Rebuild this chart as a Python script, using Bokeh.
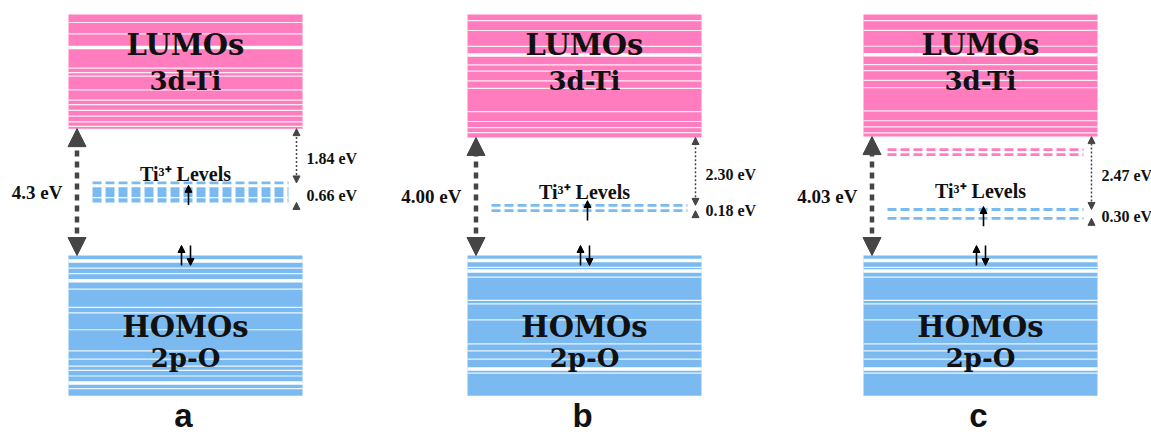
from bokeh.plotting import figure
from bokeh.models import Arrow, NormalHead, ColumnDataSource, Range1d
from bokeh.embed import file_html
from bokeh.resources import INLINE
from bokeh.core.properties import value

# ---------------- data (energies in eV, valence-band top = 0) ----------------
panel_letters = ["a", "b", "c"]
band_gap = [4.30, 4.00, 4.03]
band_gap_labels = ["4.3 eV", "4.00 eV", "4.03 eV"]
cb_to_ti = [1.84, 2.30, 2.47]
cb_to_ti_labels = ["1.84 eV", "2.30 eV", "2.47 eV"]
ti_width = [0.66, 0.18, 0.30]
ti_width_labels = ["0.66 eV", "0.18 eV", "0.30 eV"]
ti_label = "Ti³⁺ Levels"
lumo_text = ["LUMOs", "3d-Ti"]
homo_text = ["HOMOs", "2p-O"]
shallow_levels = [[], [], [3.59, 3.42]]      # pink Ti-3d levels below CB (c)
lumo_top = 8.17
homo_bottom = -4.75

# sub-level positions inside bands (fraction of band, 0 = edge facing the gap)
lumo_lines = [
    [0.02, 0.06, 0.11, 0.16, 0.21, 0.25, 0.34, 0.46, 0.49, 0.53, 0.83, 0.93],
    [0.04, 0.08, 0.13, 0.21, 0.40, 0.46, 0.54, 0.59, 0.74, 0.87, 0.95],
    [0.03, 0.08, 0.13, 0.21, 0.40, 0.46, 0.54, 0.59, 0.74, 0.87, 0.95],
]
lumo_wide = [[0.71], [0.67], [0.67]]
homo_lines = [
    [0.09, 0.13, 0.24, 0.37, 0.41, 0.53, 0.68, 0.74, 0.79, 0.82, 0.86, 0.95],
    [0.085, 0.155, 0.32, 0.345, 0.46, 0.63, 0.68, 0.74, 0.84],
    [0.085, 0.155, 0.32, 0.345, 0.46, 0.63, 0.68, 0.74, 0.84],
]
homo_wide = [[0.04, 0.18, 0.91], [0.035, 0.11, 0.81], [0.035, 0.11, 0.81]]
ti_lines = [[0.0], [0.0, 1.0], [0.0, 1.0]]   # dashed Ti3+ sub-levels
ti_block = [[0.22, 1.0], [], []]             # dense dashed block (a)
ti_block_gap = [[0.75], [], []]

# ---------------- layout ----------------
W, H = 1151, 434
PPE = 29.5
ZERO_PX = 255                      # pixel row of the valence-band top
Y0 = -(H - ZERO_PX) / PPE
Y1 = ZERO_PX / PPE
LEFTS = [68, 467, 863]
BW = 234
TI_LABEL_Y = [2.76, 2.16, 2.19]
PINK = "#FF7DBE"
BLUE = "#7BBAF0"
DARK = "#454545"
SERIF = value("Liberation Serif")
BIG = value("DejaVu Serif")
DASH = "9 4"

p = figure(width=W, height=H, x_range=Range1d(0, W), y_range=Range1d(Y0, Y1),
           output_backend="svg", toolbar_location=None,
           x_axis_location=None, y_axis_location=None,
           min_border=0, outline_line_color=None, background_fill_color="white")
p.grid.visible = False


def hlines(L, R, ys, **kw):
    n = len(ys)
    if n:
        p.segment(x0=[L] * n, x1=[R] * n, y0=ys, y1=ys, **kw)


gap_arr = dict(xs=[], ys=[], xe=[], ye=[])
dot_arr = dict(xs=[], ys=[], xe=[], ye=[])
dot_one = dict(xs=[], ys=[], xe=[], ye=[])
spin = dict(xs=[], ys=[], xe=[], ye=[])

for i in range(3):
    L = LEFTS[i]
    R = L + BW
    C = L + BW / 2
    g = band_gap[i]
    # bands
    p.quad(left=L, right=R, bottom=g, top=lumo_top, fill_color=PINK, line_color=None)
    p.quad(left=L, right=R, bottom=homo_bottom, top=0, fill_color=BLUE, line_color=None)
    hlines(L, R, [g + f * (lumo_top - g) for f in lumo_lines[i]],
           line_color="white", line_width=1.2, line_alpha=0.85)
    hlines(L, R, [g + f * (lumo_top - g) for f in lumo_wide[i]],
           line_color="white", line_width=3.5)
    hlines(L, R, [f * homo_bottom for f in homo_lines[i]],
           line_color="white", line_width=1.2, line_alpha=0.85)
    hlines(L, R, [f * homo_bottom for f in homo_wide[i]],
           line_color="white", line_width=3.5)

    # Ti3+ levels
    top = g - cb_to_ti[i]
    bot = top - ti_width[i]
    hlines(L + 24, L + 220, [top - f * ti_width[i] for f in ti_lines[i]],
           line_color=BLUE, line_width=2.8, line_dash=DASH)
    if ti_block[i]:
        f0, f1 = ti_block[i]
        yc = top - (f0 + f1) / 2 * ti_width[i]
        hlines(L + 24, L + 220, [yc], line_color=BLUE,
               line_width=(f1 - f0) * ti_width[i] * PPE, line_dash=DASH)
        hlines(L + 24, L + 220, [top - f * ti_width[i] for f in ti_block_gap[i]],
               line_color="white", line_width=1.3)
    hlines(L + 24, L + 220, shallow_levels[i], line_color=PINK, line_width=2.8,
           line_dash=DASH)

    # arrows
    gap_arr["xs"].append(L + 8.5); gap_arr["ys"].append(0)
    gap_arr["xe"].append(L + 8.5); gap_arr["ye"].append(g)
    dot_arr["xs"].append(L + 228); dot_arr["ys"].append(top)
    dot_arr["xe"].append(L + 228); dot_arr["ye"].append(g)
    dot_one["xs"].append(L + 228); dot_one["ys"].append(bot - 0.25)
    dot_one["xe"].append(L + 228); dot_one["ye"].append(bot)
    mid = (top + bot) / 2
    spin["xs"] += [C + 3, C - 4, C + 5]
    spin["ys"] += [mid - 0.42, -0.34, 0.34]
    spin["xe"] += [C + 3, C - 4, C + 5]
    spin["ye"] += [mid + 0.25, 0.34, -0.34]

    # texts
    p.text(x=[C], y=[7.15], text=[lumo_text[0]], text_font=BIG, text_font_style="bold",
           text_font_size="29px", text_align="center", text_baseline="middle",
           text_color="#111111")
    p.text(x=[C], y=[5.90], text=[lumo_text[1]], text_font=BIG, text_font_style="bold",
           text_font_size="26px", text_align="center", text_baseline="middle",
           text_color="#111111")
    p.text(x=[C], y=[-2.41], text=[homo_text[0]], text_font=BIG, text_font_style="bold",
           text_font_size="29px", text_align="center", text_baseline="middle",
           text_color="#111111")
    p.text(x=[C], y=[-3.47], text=[homo_text[1]], text_font=BIG, text_font_style="bold",
           text_font_size="26px", text_align="center", text_baseline="middle",
           text_color="#111111")
    p.text(x=[L - 6], y=[g / 2], text=[band_gap_labels[i]], text_font=SERIF,
           text_font_style="bold", text_font_size="19px", text_align="right",
           text_baseline="middle", text_color="#111111")
    p.text(x=[R + 4, R + 4], y=[g - cb_to_ti[i] / 2 - 0.1, mid - 0.1],
           text=[cb_to_ti_labels[i], ti_width_labels[i]], text_font=SERIF,
           text_font_style="bold", text_font_size="16px", text_align="left",
           text_baseline="middle", text_color="#111111")
    p.text(x=[C], y=[TI_LABEL_Y[i]], text=[ti_label], text_font=SERIF,
           text_font_style="bold", text_font_size="20px", text_align="center",
           text_baseline="middle", text_color="#111111")
    p.text(x=[C - 2], y=[-5.42], text=[panel_letters[i]], text_font=value("Liberation Sans"),
           text_font_style="bold", text_font_size="33px", text_align="center",
           text_baseline="middle", text_color="#111111")


def add_arrows(d, start, end, **kw):
    src = ColumnDataSource(d)
    p.add_layout(Arrow(x_start="xs", y_start="ys", x_end="xe", y_end="ye",
                       source=src, start=start, end=end, **kw))


add_arrows(gap_arr,
           NormalHead(size=18, fill_color=DARK, line_color=DARK, line_width=1),
           NormalHead(size=18, fill_color=DARK, line_color=DARK, line_width=1),
           line_color=DARK, line_width=4.5, line_dash="6 5")
add_arrows(dot_arr,
           NormalHead(size=7, fill_color=DARK, line_color=DARK, line_width=1),
           NormalHead(size=7, fill_color=DARK, line_color=DARK, line_width=1),
           line_color=DARK, line_width=1.5, line_dash="2 2")
add_arrows(dot_one, None,
           NormalHead(size=7, fill_color=DARK, line_color=DARK, line_width=1),
           line_color=DARK, line_width=1.5, line_dash="2 2")
add_arrows(spin, None,
           NormalHead(size=7, fill_color="black", line_color="black", line_width=1),
           line_color="black", line_width=1.6)

open("out.html", "w").write(file_html(p, INLINE))
